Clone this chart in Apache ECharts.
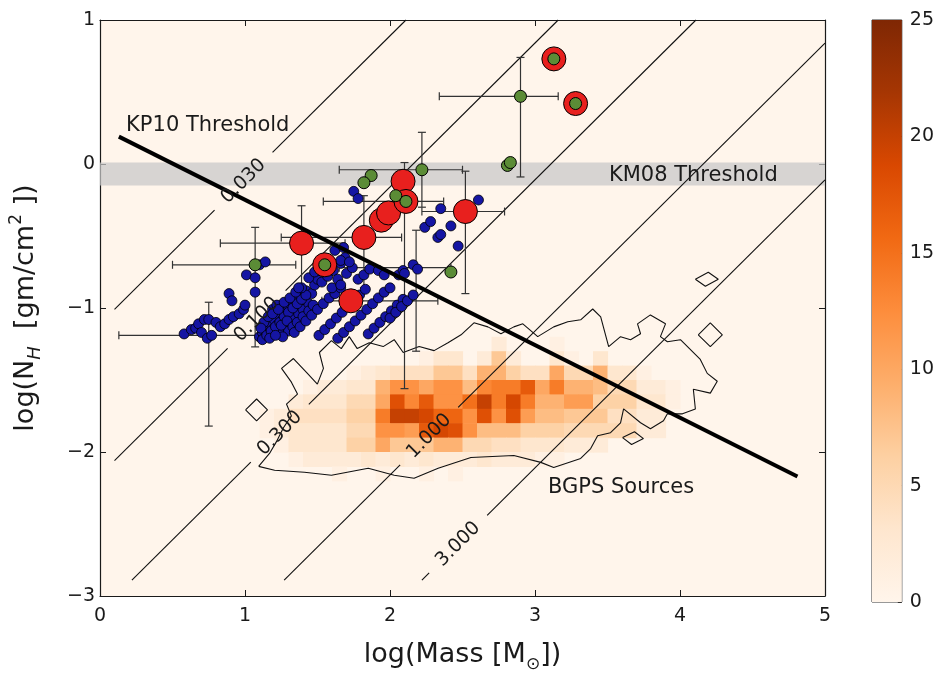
<!DOCTYPE html>
<html>
<head>
<meta charset="utf-8">
<title>BGPS sources: mass vs column density</title>
<script src="https://cdn.jsdelivr.net/npm/echarts@6/dist/echarts.min.js"></script>
<style>
html, body { margin: 0; padding: 0; background: #fff; }
#chart { width: 937px; height: 678px; }
</style>
</head>
<body>
<div id="chart"></div>
<script>
// --- data (log M, log N_H) ---

// BGPS 2D histogram, bins of 0.1 starting at x=1.0, rows from y=-1.2 downwards
var heatX0 = 1.0;
var heatYTop = -1.2;
var heatBin = 0.1;
var heatRows = [
  [0,0,0,0,0,0,0,0,0,0,0,0,0,0,0,0,0,2,0,0,0,1,0,0,0,0,0,0,0,0],
  [0,0,0,0,0,0,0,0,0,0,0,0,1,3,3,0,2,7,2,0,0,3,1,0,3,0,0,0,0,0],
  [0,0,0,0,0,0,0,1,2,3,4,4,4,7,7,4,9,9,6,4,4,10,5,5,9,3,3,1,0,0],
  [0,0,0,0,1,2,2,3,3,9,12,12,10,12,12,8,13,14,14,17,10,14,9,9,8,5,5,2,2,1],
  [0,0,0,2,3,3,3,5,5,10,18,13,17,12,12,15,20,14,19,14,9,9,11,11,6,6,6,3,3,1],
  [0,1,2,4,4,4,4,6,6,14,20,20,19,16,16,12,18,12,18,11,8,8,7,7,7,4,4,2,2,0],
  [0,1,2,3,3,3,3,5,5,12,12,11,17,19,18,12,8,8,8,6,6,6,5,5,5,5,5,2,2,0],
  [0,0,1,3,3,3,3,6,6,10,7,7,7,9,9,5,5,4,4,3,3,3,2,2,2,0,0,0,0,0],
  [0,0,0,1,2,2,2,2,3,2,3,2,3,2,2,2,3,2,2,2,1,1,0,0,0,0,0,0,0,0],
  [0,0,0,0,0,0,1,0,0,1,0,0,1,0,1,0,0,0,0,0,0,0,0,0,0,0,0,0,0,0]
];

// outer contour of the BGPS distribution
var bgpsContour = [
  [1.094,-2.100],[1.169,-2.010],[1.217,-1.928],[1.265,-1.832],[1.320,-1.749],[1.286,-1.667],
  [1.362,-1.598],[1.320,-1.515],[1.252,-1.419],[1.334,-1.351],[1.424,-1.447],[1.499,-1.529],
  [1.541,-1.419],[1.513,-1.309],[1.596,-1.227],[1.664,-1.282],[1.719,-1.199],[1.774,-1.282],
  [1.857,-1.241],[1.953,-1.268],[2.029,-1.220],[2.091,-1.309],[2.201,-1.268],[2.304,-1.296],
  [2.400,-1.241],[2.490,-1.186],[2.579,-1.103],[2.675,-1.131],[2.765,-1.179],[2.854,-1.131],
  [2.916,-1.110],[3.019,-1.199],[3.129,-1.131],[3.226,-1.096],[3.315,-1.082],[3.398,-1.007],
  [3.453,-1.062],[3.508,-1.268],[3.590,-1.199],[3.659,-1.220],[3.728,-1.179],[3.707,-1.110],
  [3.796,-1.048],[3.900,-1.110],[3.865,-1.199],[3.913,-1.234],[4.003,-1.220],[4.140,-1.357],
  [4.188,-1.454],[4.257,-1.509],[4.209,-1.591],[4.092,-1.564],[4.106,-1.701],[4.017,-1.735],
  [3.913,-1.735],[3.886,-1.783],[3.796,-1.838],[3.728,-1.797],[3.611,-1.701],[3.590,-1.797],
  [3.521,-1.866],[3.432,-1.887],[3.384,-1.976],[3.315,-2.045],[3.129,-2.107],[3.040,-2.072],
  [2.854,-2.024],[2.558,-2.038],[2.332,-2.113],[2.166,-2.182],[2.029,-2.162],[1.850,-2.113],
  [1.596,-2.162],[1.410,-2.141],[1.204,-2.127],[1.094,-2.100]
];
var contourIslands = [
  [[1.004,-1.708],[1.080,-1.632],[1.155,-1.708],[1.080,-1.784],[1.004,-1.708]],
  [[4.106,-0.800],[4.195,-0.752],[4.264,-0.800],[4.175,-0.849],[4.106,-0.800]],
  [[4.126,-1.186],[4.209,-1.103],[4.292,-1.186],[4.209,-1.268],[4.126,-1.186]],
  [[3.604,-1.900],[3.686,-1.859],[3.748,-1.907],[3.666,-1.948],[3.604,-1.900]]
];

// constant-radius lines (pc)
var radiusLabels = ['0.030', '0.100', '0.300', '1.000', '3.000'];
var radiusStart = [[0.10,-1.01],[0.10,-2.06],[0.22,-2.89],[1.27,-2.89],[2.22,-2.89]];
var radiusEnd = [[2.11,1.00],[3.16,1.00],[4.11,1.00],[5.00,0.84],[5.00,-0.11]];
var radiusLabelX = [0.99, 1.08, 1.24, 2.27, 2.47];

// KP10 threshold and KM08 band
var kp10Line = [[0.13, 0.19], [4.81, -2.17]];
var km08Band = [[0, -0.15, 5, 0.01]];

var bluePoints = [
  [0.58,-1.18],[0.63,-1.15],[0.66,-1.14],[0.68,-1.11],[0.70,-1.17],[0.72,-1.08],[0.74,-1.21],
  [0.75,-1.08],[0.77,-1.19],[0.80,-1.10],[0.83,-1.13],[0.86,-1.11],[0.89,-1.08],[0.92,-1.06],
  [0.96,-1.04],[0.99,-1.01],[1.00,-0.98],[0.89,-0.90],[0.91,-0.95],[1.01,-0.77],[1.07,-0.79],
  [1.07,-0.89],[1.10,-0.70],[1.14,-0.68],
  [1.10,-1.20],[1.12,-1.17],[1.14,-1.20],[1.15,-1.14],[1.17,-1.17],[1.18,-1.11],[1.20,-1.14],
  [1.20,-1.08],[1.22,-1.18],[1.23,-1.11],[1.24,-1.05],[1.25,-1.15],[1.26,-1.08],[1.27,-1.02],
  [1.28,-1.12],[1.29,-1.05],[1.30,-0.99],[1.31,-1.10],[1.32,-1.02],[1.33,-0.96],[1.34,-1.07],
  [1.35,-0.99],[1.36,-0.93],[1.37,-1.04],[1.38,-0.96],[1.39,-0.90],[1.40,-1.01],[1.41,-0.93],
  [1.42,-0.88],[1.13,-1.10],[1.16,-1.06],[1.19,-1.01],[1.22,-0.98],[1.11,-1.14],[1.30,-1.16],
  [1.26,-1.20],[1.44,-0.97],[1.46,-0.90],[1.48,-0.84],[1.50,-0.80],
  [1.12,-1.22],[1.15,-1.19],[1.18,-1.16],[1.21,-1.13],[1.24,-1.10],[1.27,-1.06],[1.30,-1.03],
  [1.33,-1.00],[1.36,-0.97],[1.39,-0.94],[1.42,-0.91],[1.17,-1.21],[1.21,-1.19],[1.25,-1.12],
  [1.29,-1.09],[1.33,-1.13],[1.36,-1.10],[1.40,-1.06],[1.44,-1.02],[1.47,-0.98],[1.19,-1.04],
  [1.23,-1.01],[1.27,-0.96],[1.31,-0.93],[1.35,-0.89],[1.39,-0.86],
  [1.34,-1.17],[1.38,-1.13],[1.42,-1.09],[1.46,-1.05],[1.50,-1.01],[1.54,-0.97],[1.58,-0.93],
  [1.62,-0.90],[1.66,-0.86],
  [1.51,-1.19],[1.55,-1.15],[1.59,-1.11],[1.63,-1.07],[1.67,-1.03],[1.71,-0.99],[1.75,-0.95],
  [1.79,-0.91],[1.83,-0.87],
  [1.64,-1.21],[1.68,-1.17],[1.72,-1.13],[1.76,-1.09],[1.80,-1.05],[1.84,-1.01],[1.88,-0.97],
  [1.92,-0.93],[1.96,-0.89],[2.00,-0.86],
  [1.85,-1.18],[1.89,-1.14],[1.93,-1.10],[1.97,-1.06],[2.01,-1.02],[2.05,-0.98],[2.09,-0.94],
  [2.00,-1.07],[2.04,-1.03],[2.08,-0.99],[2.12,-0.95],[2.16,-0.91],
  [1.53,-0.82],[1.57,-0.78],[1.61,-0.74],[1.66,-0.69],[1.69,-0.65],[1.62,-0.60],[1.68,-0.58],
  [1.50,-0.74],[1.58,-0.68],[1.60,-0.86],[1.64,-0.80],[1.70,-0.76],[1.74,-0.72],[1.78,-0.80],
  [1.82,-0.77],[1.86,-0.73],
  [2.24,-0.44],[2.28,-0.40],[2.33,-0.51],[2.35,-0.49],[2.42,-0.43],[2.47,-0.57],[2.35,-0.31],
  [2.61,-0.25],[1.75,-0.19],[1.78,-0.24],[2.16,-0.70],[2.19,-0.73],[1.66,-0.67],[1.72,-0.68],
  [2.06,-0.77],[2.09,-0.74],[2.10,-0.76],[1.92,-0.74],[1.96,-0.77],[1.66,-0.84],[1.44,-0.79],
  [1.48,-0.75],[1.37,-0.86]
];
var redPoints = [
  [1.39,-0.55],[1.82,-0.51],[1.94,-0.39],[1.99,-0.34],[2.09,-0.12],[2.11,-0.26],
  [2.52,-0.33],[1.55,-0.70],[1.73,-0.95],[3.13,0.73],[3.28,0.42]
];
var greenPoints = [
  [2.90,0.47],[3.13,0.73],[3.28,0.42],[2.81,-0.01],[2.83,0.01],[2.22,-0.04],[1.87,-0.08],
  [1.82,-0.13],[2.04,-0.22],[2.11,-0.26],[1.07,-0.70],[1.55,-0.70],[2.42,-0.75]
];

// error bars: [xlo, y, xhi] and [x, ylo, yhi]
var xErrors = [
  [2.34,0.47,3.16],[1.65,-0.04,2.50],[1.54,-0.26,2.37],[2.22,-0.33,2.79],[0.83,-0.55,1.69],
  [1.25,-0.51,2.08],[0.50,-0.70,1.35],[1.65,-0.72,2.42],[1.53,-0.95,2.33],[0.13,-1.19,1.09]
];
var yErrors = [
  [2.90,-0.09,0.74],[2.22,-0.30,0.22],[2.10,-1.56,0.01],[2.18,-1.30,-0.46],[2.52,-0.90,-0.05],
  [1.39,-0.85,-0.29],[1.82,-0.86,-0.22],[1.07,-1.27,-0.44],[0.75,-1.82,-0.96]
];

var noteTexts = ['KP10 Threshold', 'KM08 Threshold', 'BGPS Sources'];
var notePos = [[0.18, 0.265], [3.51, -0.08], [3.09, -2.25]];
var colorbarTicks = [0, 5, 10, 15, 20, 25];

var oranges = ['#fff5eb','#fee6ce','#fdd0a2','#fdae6b','#fd8d3c','#f16913','#d94801','#a63603','#7f2704'];
var font = 'DejaVu Sans';
var ink = '#1a1a1a';

// --- build series data ---
var heatData = [];
heatRows.forEach(function (row, r) {
  row.forEach(function (v, c) {
    if (v > 0) heatData.push([heatX0 + c * heatBin, heatYTop - (r + 1) * heatBin, v]);
  });
});

var labelGap = 0.2;
var radiusSegs = [];
var radiusTextData = [];
radiusLabels.forEach(function (lab, i) {
  var s = radiusStart[i], e = radiusEnd[i];
  var k = (e[1] - s[1]) / (e[0] - s[0]);
  var at = function (x) { return s[1] + k * (x - s[0]); };
  var g0 = radiusLabelX[i] - labelGap, g1 = radiusLabelX[i] + labelGap;
  if (g0 > s[0]) radiusSegs.push([s[0], s[1], g0, at(g0)]);
  if (g1 < e[0]) radiusSegs.push([g1, at(g1), e[0], e[1]]);
  radiusTextData.push({ value: [radiusLabelX[i], at(radiusLabelX[i])], name: lab });
});

function minusFmt(v) { return v < 0 ? '\u2212' + Math.abs(v) : String(v); }

var lineStroke = { stroke: '#111', lineWidth: 1.1 };
var errStroke = { stroke: '#333', lineWidth: 1.2 };
var cap = 4;

var series = [
  {
    type: 'custom', name: 'bgps-hist', z: 1, silent: true,
    xAxisIndex: 0, yAxisIndex: 0,
    data: heatData,
    renderItem: function (params, api) {
      var x0 = api.value(0), y0 = api.value(1);
      var p0 = api.coord([x0, y0 + heatBin]);
      var p1 = api.coord([x0 + heatBin, y0]);
      return { type: 'rect',
        shape: { x: p0[0], y: p0[1], width: p1[0] - p0[0] + 0.6, height: p1[1] - p0[1] + 0.6 },
        style: { fill: api.visual('color') } };
    }
  },
  {
    type: 'custom', name: 'km08', z: 2, silent: true,
    data: km08Band,
    renderItem: function (params, api) {
      var a = api.coord([api.value(0), api.value(3)]);
      var b = api.coord([api.value(2), api.value(1)]);
      return { type: 'rect', shape: { x: a[0], y: a[1], width: b[0] - a[0], height: b[1] - a[1] },
        style: { fill: 'rgba(200,200,200,0.72)' } };
    }
  },
  {
    type: 'custom', name: 'radius', z: 3, silent: true,
    data: radiusSegs,
    renderItem: function (params, api) {
      var a = api.coord([api.value(0), api.value(1)]);
      var b = api.coord([api.value(2), api.value(3)]);
      return { type: 'line', shape: { x1: a[0], y1: a[1], x2: b[0], y2: b[1] }, style: lineStroke };
    }
  },
  {
    type: 'line', name: 'contour', z: 3, silent: true, symbol: 'none',
    data: bgpsContour, lineStyle: { color: '#111', width: 1.1 }
  }
];
contourIslands.forEach(function (isl) {
  series.push({ type: 'line', z: 3, silent: true, symbol: 'none', data: isl,
    lineStyle: { color: '#111', width: 1.1 } });
});
series.push(
  {
    type: 'custom', name: 'xerr', z: 4, silent: true,
    data: xErrors,
    renderItem: function (params, api) {
      var a = api.coord([api.value(0), api.value(1)]);
      var b = api.coord([api.value(2), api.value(1)]);
      return { type: 'group', children: [
        { type: 'line', shape: { x1: a[0], y1: a[1], x2: b[0], y2: b[1] }, style: errStroke },
        { type: 'line', shape: { x1: a[0], y1: a[1] - cap, x2: a[0], y2: a[1] + cap }, style: errStroke },
        { type: 'line', shape: { x1: b[0], y1: b[1] - cap, x2: b[0], y2: b[1] + cap }, style: errStroke }
      ] };
    }
  },
  {
    type: 'custom', name: 'yerr', z: 4, silent: true,
    data: yErrors,
    renderItem: function (params, api) {
      var a = api.coord([api.value(0), api.value(1)]);
      var b = api.coord([api.value(0), api.value(2)]);
      return { type: 'group', children: [
        { type: 'line', shape: { x1: a[0], y1: a[1], x2: b[0], y2: b[1] }, style: errStroke },
        { type: 'line', shape: { x1: a[0] - cap, y1: a[1], x2: a[0] + cap, y2: a[1] }, style: errStroke },
        { type: 'line', shape: { x1: b[0] - cap, y1: b[1], x2: b[0] + cap, y2: b[1] }, style: errStroke }
      ] };
    }
  },
  {
    type: 'scatter', name: 'blue', z: 5, silent: true, symbolSize: 10, data: bluePoints,
    itemStyle: { color: '#1515a3', borderColor: '#000', borderWidth: 0.8, opacity: 1 }
  },
  {
    type: 'scatter', name: 'red', z: 6, silent: true, symbolSize: 24, data: redPoints,
    itemStyle: { color: '#e8201e', borderColor: '#000', borderWidth: 1, opacity: 1 }
  },
  {
    type: 'scatter', name: 'green', z: 7, silent: true, symbolSize: 12, data: greenPoints,
    itemStyle: { color: '#5b8c36', borderColor: '#000', borderWidth: 1, opacity: 1 }
  },
  {
    type: 'line', name: 'kp10', z: 8, silent: true, symbol: 'none', data: kp10Line,
    lineStyle: { color: '#000', width: 4 }
  },
  {
    type: 'scatter', name: 'notes', z: 9, silent: true, symbolSize: 0,
    itemStyle: { opacity: 1 },
    data: noteTexts.map(function (t, i) { return { value: notePos[i], name: t }; }),
    label: { show: true, position: 'right', distance: 0, formatter: '{b}',
      fontFamily: font, fontSize: 21, color: ink }
  },
  {
    type: 'scatter', name: 'radius-labels', z: 9, silent: true, symbolSize: 0,
    itemStyle: { opacity: 1 },
    data: radiusTextData,
    label: { show: true, position: 'inside', rotate: 45, formatter: '{b}',
      fontFamily: font, fontSize: 19, color: ink }
  },
  {
    type: 'bar', name: 'colorbar', xAxisIndex: 2, yAxisIndex: 2, silent: true,
    barWidth: '100%', data: [colorbarTicks[colorbarTicks.length - 1]],
    itemStyle: { color: { type: 'linear', x: 0, y: 1, x2: 0, y2: 0,
      colorStops: oranges.map(function (c, i) { return { offset: i / (oranges.length - 1), color: c }; }) } }
  }
);

var tickStyle = { show: true, inside: true, length: 6, lineStyle: { color: ink, width: 1 } };
var axisLine = { show: true, onZero: false, lineStyle: { color: ink, width: 1.2 } };
var tickLabel = { fontFamily: font, fontSize: 19, color: ink };

var chart = echarts.init(document.getElementById('chart'));
chart.setOption({
  animation: false,
  backgroundColor: '#fff',
  grid: [
    { left: 98, top: 20, width: 727, height: 582, show: true, backgroundColor: oranges[0], borderWidth: 0 },
    { left: 872, top: 20, width: 30, height: 582, show: true, borderColor: '#333', borderWidth: 1 }
  ],
  visualMap: {
    type: 'continuous', show: false, seriesIndex: 0, dimension: 2,
    min: colorbarTicks[0], max: colorbarTicks[colorbarTicks.length - 1],
    inRange: { color: oranges }
  },
  xAxis: [
    { type: 'value', gridIndex: 0, min: 0, max: 5, interval: 1, position: 'bottom',
      axisLine: axisLine, axisTick: tickStyle, splitLine: { show: false },
      axisLabel: Object.assign({ margin: 11, formatter: minusFmt }, tickLabel),
      name: '{a|log(Mass [M}{s|\u2299}{a|])}', nameLocation: 'middle', nameGap: 41,
      nameTextStyle: { rich: {
        a: { fontFamily: font, fontSize: 27, color: ink, lineHeight: 36 },
        s: { fontFamily: font, fontSize: 17, color: ink, verticalAlign: 'bottom' } } } },
    { type: 'value', gridIndex: 0, min: 0, max: 5, interval: 1, position: 'top',
      axisLine: axisLine, axisTick: tickStyle, splitLine: { show: false }, axisLabel: { show: false } },
    { type: 'category', gridIndex: 1, data: [''], show: false }
  ],
  yAxis: [
    { type: 'value', gridIndex: 0, min: -3, max: 1, interval: 1, position: 'left',
      axisLine: axisLine, axisTick: tickStyle, splitLine: { show: false },
      axisLabel: Object.assign({ margin: 5, formatter: minusFmt }, tickLabel),
      name: '{a|log(N}{s|H}{a|  [gm/cm}{p|2}{a| ])}', nameLocation: 'middle', nameGap: 56,
      nameTextStyle: { rich: {
        a: { fontFamily: font, fontSize: 27, color: ink, lineHeight: 36 },
        s: { fontFamily: font, fontSize: 18, fontStyle: 'italic', color: ink, verticalAlign: 'bottom' },
        p: { fontFamily: font, fontSize: 17, color: ink, verticalAlign: 'top' } } } },
    { type: 'value', gridIndex: 0, min: -3, max: 1, interval: 1, position: 'right',
      axisLine: axisLine, axisTick: tickStyle, splitLine: { show: false }, axisLabel: { show: false } },
    { type: 'value', gridIndex: 1, min: 0, max: 25, interval: 5, position: 'right',
      axisLine: { show: false }, splitLine: { show: false },
      axisTick: { show: true, inside: true, length: 4, lineStyle: { color: '#333' } },
      axisLabel: Object.assign({ margin: 8 }, tickLabel) }
  ],
  series: series
});
</script>
</body>
</html>
